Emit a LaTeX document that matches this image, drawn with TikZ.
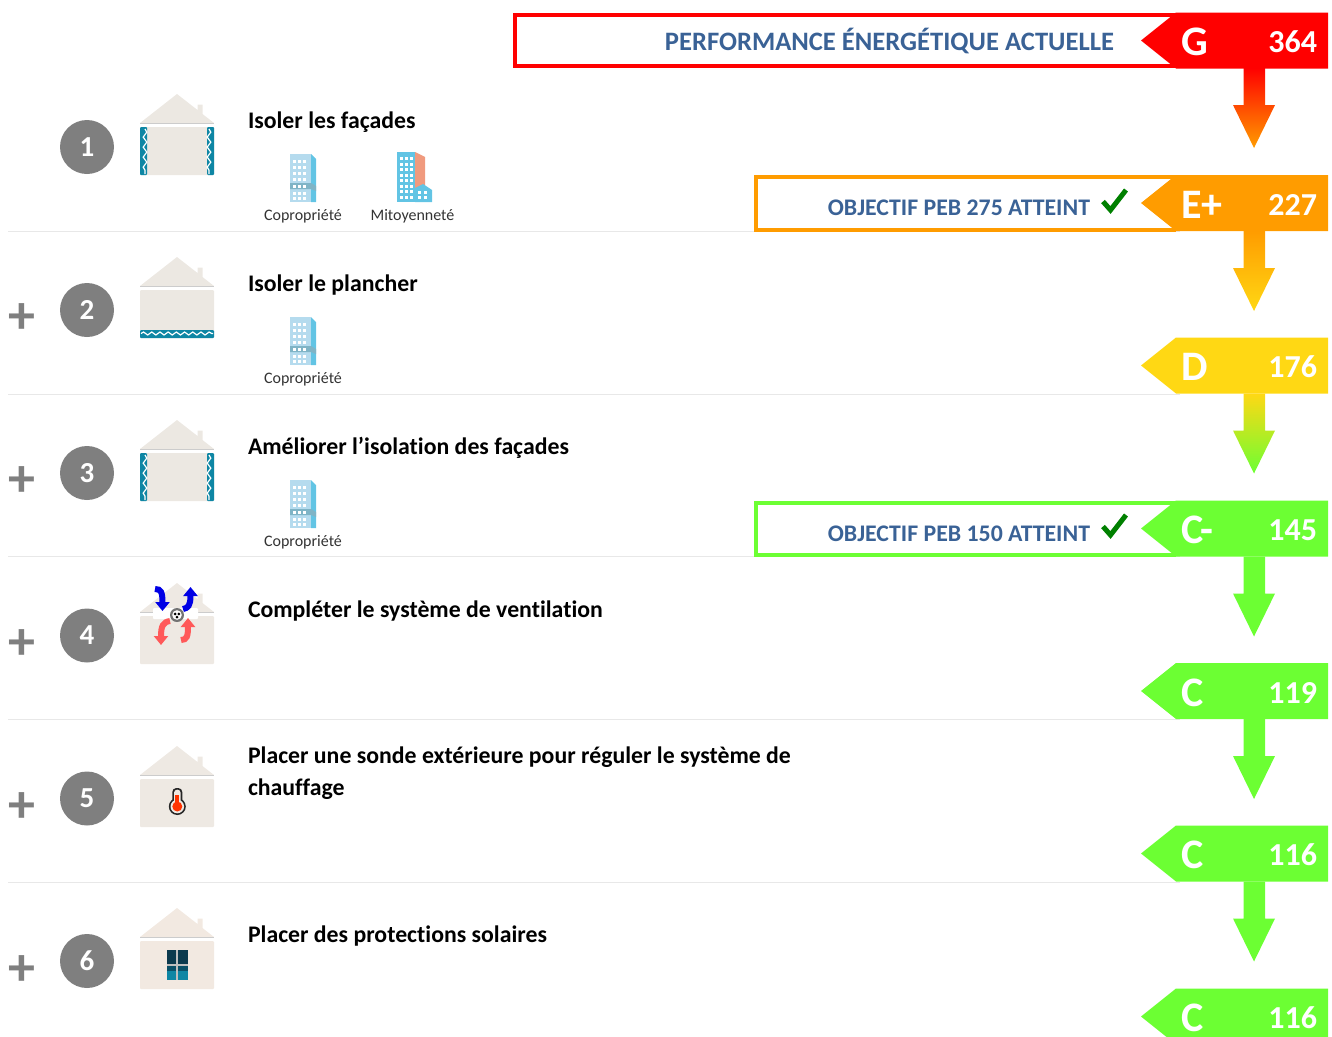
\documentclass[tikz,border=0pt]{standalone}
\usepackage{fontspec}
\setmainfont{Carlito}[RawFeature={-liga;-clig}]
\usetikzlibrary{arrows.meta,decorations.pathmorphing,calc}
\definecolor{cRed}{HTML}{FF0000}
\definecolor{cOrange}{HTML}{FF9C00}
\definecolor{cYellow}{HTML}{FFD814}
\definecolor{cGreen}{HTML}{6CFF33}
\definecolor{cBlueText}{HTML}{3A6296}
\definecolor{cGrey}{HTML}{7F7F7F}
\definecolor{cHouse}{HTML}{ECE8E2}
\definecolor{cHouseB}{HTML}{EEE9E3}
\definecolor{cHouseC}{HTML}{F2E9E1}
\definecolor{cTeal}{HTML}{0E86A4}
\definecolor{cRule}{HTML}{E8E8E8}
\definecolor{cLight}{HTML}{B5DBEE}
\definecolor{cSky}{HTML}{62C4E4}
\definecolor{cBand}{HTML}{7FB4C6}
\definecolor{cSalmon}{HTML}{F09A7E}
\definecolor{cWinDark}{HTML}{0C3A4E}
\definecolor{cWinMid}{HTML}{0A5068}
\tikzset{
  every node/.style={inner sep=0pt,outer sep=0pt},
  title/.style={anchor=base west,font=\fontsize{23.78}{28}\selectfont\bfseries,text=black},
  small/.style={anchor=base,font=\fontsize{16}{18}\selectfont,text=black!80},
  badge/.style={circle,fill=cGrey,minimum size=54pt,text=white,font=\fontsize{29}{34}\selectfont\bfseries},
  plussign/.style={font=\fontsize{54}{54}\selectfont\bfseries,text=cGrey},
  grade/.style={anchor=base west,text=white,font=\fontsize{42}{46}\selectfont\bfseries},
  score/.style={anchor=base east,text=white,font=\fontsize{32}{36}\selectfont\bfseries},
  banner/.style={anchor=base east,text=cBlueText,font=\fontsize{26.6}{30}\selectfont\bfseries},
  bannersm/.style={anchor=base east,text=cBlueText,font=\fontsize{23.8}{28}\selectfont\bfseries},
  rulekey/.style={draw=cRule,line width=1pt},
  checkkey/.style={draw=green!50!black,line width=5pt,line join=miter},
  wave/.style={draw=white,line width=1.2pt,decorate,decoration={snake,segment length=10pt,amplitude=1.8pt}},
  wavefloor/.style={draw=white,line width=1.2pt,decorate,decoration={snake,segment length=8.2pt,amplitude=1.5pt}},
  curvedarr/.style={line width=6pt,-{Triangle[length=9pt,width=14pt]}}
}
\newcommand{\housebase}[1]{%
  \fill[#1] (140,123) -- (177,94) -- (197.5,110) -- (197.5,104.5) -- (202.5,104.5) -- (202.5,114) -- (214,123) -- cycle;
  \fill[black!20] (140,123) rectangle (214,124.2);
  \fill[#1,rounded corners=1pt] (140,127) rectangle (214,175);
}
\newcommand{\condo}[1]{%
  \begin{scope}[shift={(#1)}]
  \fill[cLight] (290,154) rectangle (311,202);
  \fill[cSky] (311,154) -- (316,159) -- (316,202) -- (311,202) -- cycle;
  \fill[cBand] (290,183) -- (311,183) -- (316,186) -- (316,191) -- (311,189) -- (290,189) -- cycle;
  \foreach \yy in {160,166,172,178,185,192,197}{
    \foreach \xx in {293,298,303}{
      \fill[white] (\xx,\yy) rectangle ++(3.4,3.2);
    }
  }
  \end{scope}
}
\newcommand{\energy}[5]{%
  \fill[#2] (1328,#1) -- (1176,#1) -- (1141,#1+28) -- (1176,#1+56) -- (1328,#1+56) -- cycle;
  \node[grade] (g#5) at (1181,#1+43) {#3};
  \node[score] (s#5) at (1317,#1+40) {#4};
}
\newcommand{\blockarrow}[3]{%
  \shade[top color=#2,bottom color=#3] (1243.5,#1) -- (1265,#1) -- (1265,#1+37) -- (1275,#1+37) -- (1254,#1+80) -- (1233,#1+37) -- (1243.5,#1+37) -- cycle;
}
\begin{document}
\begin{tikzpicture}[x=1pt,y=-1pt]
\useasboundingbox (0,0) rectangle (1332,1036);

\foreach \yy/\nn in {231/a,394/b,556.5/c,719/d,882/e}{
  \coordinate (rl\nn) at (8,\yy);
  \coordinate (rr\nn) at (1180,\yy);
  \draw[rulekey] (rl\nn) -- (rr\nn);
}

\draw[cRed,line width=4pt] (1176,15) -- (515,15) -- (515,66) -- (1176,66);
\draw[cOrange,line width=4pt] (1176,177) -- (756,177) -- (756,229.5) -- (1176,229.5);
\draw[cGreen,line width=4pt] (1176,502.5) -- (756,502.5) -- (756,555) -- (1176,555);
\node[banner] (b0) at (1114,50) {PERFORMANCE ÉNERGÉTIQUE ACTUELLE};
\node[bannersm] (b1) at (1090,215) {OBJECTIF PEB 275 ATTEINT};
\node[bannersm] (b2) at (1090,541) {OBJECTIF PEB 150 ATTEINT};
\draw[checkkey] (1103,201.5) -- (1110.5,210) -- (1126,190);
\draw[checkkey] (1103,526.5) -- (1110.5,535) -- (1126,515);

\blockarrow{68}{cRed}{cOrange}
\blockarrow{231}{cOrange}{cYellow}
\blockarrow{393.5}{cYellow}{cGreen}
\blockarrow{556.5}{cGreen}{cGreen}
\blockarrow{719}{cGreen}{cGreen}
\blockarrow{881.5}{cGreen}{cGreen}

\energy{12.5}{cRed}{G}{364}{a}
\energy{175}{cOrange}{E+}{227}{b}
\energy{337.5}{cYellow}{D}{176}{c}
\energy{500.5}{cGreen}{C-}{145}{d}
\energy{663}{cGreen}{C}{119}{e}
\energy{825.5}{cGreen}{C}{116}{f}
\energy{988.5}{cGreen}{C}{116}{h}

\node[badge] (n1) at (87,147) {\raisebox{-2pt}{1}};
\node[badge] (n2) at (87,310) {\raisebox{-2pt}{2}};
\node[badge] (n3) at (87,473) {\raisebox{-2pt}{3}};
\node[badge] (n4) at (87,635.5) {\raisebox{-2pt}{4}};
\node[badge] (n5) at (87,798.5) {\raisebox{-2pt}{5}};
\node[badge] (n6) at (87,961) {\raisebox{-2pt}{6}};
\node[plussign] (p2) at (22,319) {+};
\node[plussign] (p3) at (22,482) {+};
\node[plussign] (p4) at (22,645) {+};
\node[plussign] (p5) at (22,808) {+};
\node[plussign] (p6) at (22,970.5) {+};

\node[title] (t1) at (248,128) {Isoler les façades};
\node[title] (t2) at (248,291) {Isoler le plancher};
\node[title] (t3) at (248,454) {Améliorer l’isolation des façades};
\node[title] (t4) at (248,617) {Compléter le système de ventilation};
\node[title] (t5a) at (248,763) {Placer une sonde extérieure pour réguler le système de};
\node[title] (t5b) at (248,795) {chauffage};
\node[title] (t6) at (248,942) {Placer des protections solaires};

\housebase{cHouse}
\fill[cTeal,rounded corners=1pt] (140,127) rectangle (147,175);
\fill[cTeal,rounded corners=1pt] (207,127) rectangle (214,175);
\path[wave] (145,129) -- (145,174);
\path[wave] (209,129) -- (209,174);

\begin{scope}[shift={(0,163)}]
\housebase{cHouse}
\fill[cTeal,rounded corners=1pt] (140,167) rectangle (214,175);
\path[wavefloor] (141,170.5) -- (213,170.5);
\end{scope}

\begin{scope}[shift={(0,326)}]
\housebase{cHouse}
\fill[cTeal,rounded corners=1pt] (140,127) rectangle (147,175);
\fill[cTeal,rounded corners=1pt] (207,127) rectangle (214,175);
\path[wave] (145,129) -- (145,174);
\path[wave] (209,129) -- (209,174);
\end{scope}

\begin{scope}[shift={(0,489)}]
\housebase{cHouseB}
\end{scope}
\fill[white,rounded corners=1pt] (153,608) rectangle (198,619);
\draw[curvedarr,blue!90!black] (155,589) .. controls (161,589) and (162.5,592) .. (162.5,611);
\draw[curvedarr,blue!90!black] (183,609) .. controls (188,608) and (190.5,606) .. (190.5,587);
\draw[curvedarr,red!65!white] (170,621) .. controls (163,622) and (161,626) .. (161,645);
\draw[curvedarr,red!65!white] (181,640) .. controls (187,640) and (188,636) .. (188,618);
\fill[black!55] (177,615) circle (7);
\fill[white] (177,615) circle (4.8);
\foreach \aa in {90,210,330}{
  \fill[black] ($(177,615)+(\aa:2.2)$) circle (1.5);
}

\begin{scope}[shift={(0,652)}]
\housebase{cHouseB}
\end{scope}
\fill[black!85] (177.3,806.5) circle (8.5);
\fill[black!85,rounded corners=4pt] (172.3,788) rectangle (182.3,806);
\fill[cHouseB] (177.3,806.5) circle (6.8);
\fill[cHouseB,rounded corners=3pt] (174,789.7) rectangle (180.6,806);
\fill[red!60!orange] (175.3,795) rectangle (179.3,806);
\fill[red!60!orange] (177.3,806.5) circle (5);

\begin{scope}[shift={(0,814)}]
\housebase{cHouseC}
\end{scope}
\fill[cWinDark] (166.5,950) rectangle (188,966);
\fill[cWinMid] (166.5,966) rectangle (188,971);
\fill[cTeal] (166.5,971) rectangle (188,980);
\fill[black!25] (176,950) rectangle (178,980);
\fill[black!25] (166.5,964) rectangle (188,966);

\condo{0,0}
\condo{0,163}
\condo{0,326}
\fill[cSalmon] (415,152) -- (425,157) -- (425,190) -- (415,190) -- cycle;
\fill[cSky] (397,152) rectangle (415,202);
\fill[cSky] (415,188) -- (423,184) -- (432,190) -- (432,202) -- (415,202) -- cycle;
\foreach \yy in {157,162.5,168,173.5,179,184.5,190,196}{
  \foreach \xx in {400,405,410}{
    \fill[white] (\xx,\yy) rectangle ++(3,3);
  }
}
\foreach \xx in {418,424}{
  \fill[white] (\xx,191) rectangle ++(3,3);
  \fill[white] (\xx,196) rectangle ++(3,3);
}
\node[small] (c1) at (303,220) {Copropriété};
\node[small] (m1) at (412.5,220) {Mitoyenneté};
\node[small] (c2) at (303,383) {Copropriété};
\node[small] (c3) at (303,546) {Copropriété};
\end{tikzpicture}
\end{document}
